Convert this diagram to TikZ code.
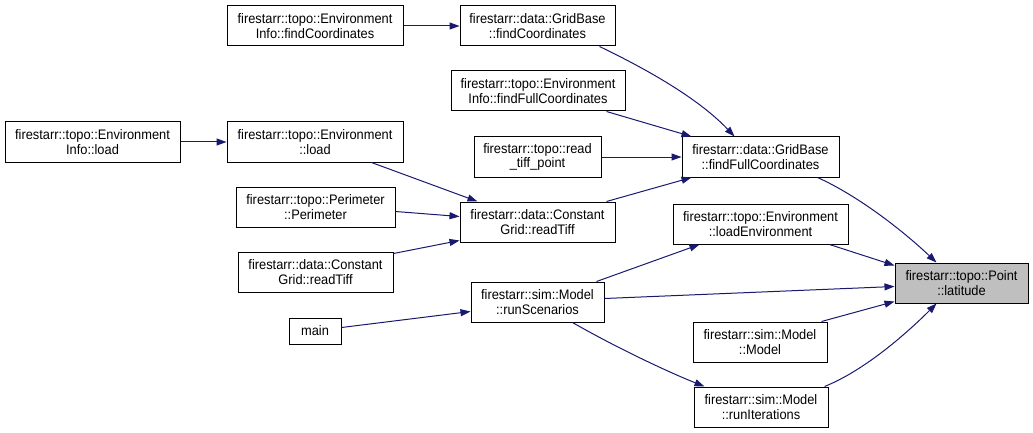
\documentclass[tikz,border=0pt]{standalone}
\usepackage{fontspec}
\setmainfont{Liberation Sans}[FakeStretch=0.93]
\usetikzlibrary{arrows.meta,calc}
\definecolor{edgeblue}{HTML}{191970}
\definecolor{latfill}{HTML}{BFBFBF}
\begin{document}
\begin{tikzpicture}[x=1pt,y=-1pt,
  fn/.style={draw=black, line width=1pt, inner sep=0pt, align=center,
    font=\fontsize{13.8}{14.7}\selectfont, text=black, minimum height=40pt},
  edge/.style={draw=edgeblue, line width=1pt, -{Triangle[length=10pt,width=7pt]}}]
\useasboundingbox (0,0) rectangle (1033,433);
% rank 0
\node[fn, minimum width=175pt] (EIl) at (92.5,142) {firestarr::topo::Environment\\Info::load};
% rank 1
\node[fn, minimum width=176pt] (EIfc) at (315,26) {firestarr::topo::Environment\\Info::findCoordinates};
\node[fn, minimum width=176pt] (El) at (315,142) {firestarr::topo::Environment\\::load};
\node[fn, minimum width=159pt] (Per) at (315.5,207) {firestarr::topo::Perimeter\\::Perimeter};
\node[fn, minimum width=155pt] (CGrtA) at (315.5,272) {firestarr::data::Constant\\Grid::readTiff};
\node[fn, minimum width=52pt, minimum height=26pt] (main) at (315,331) {main};
% rank 2
\node[fn, minimum width=155pt] (GBfc) at (537.5,26) {firestarr::data::GridBase\\::findCoordinates};
\node[fn, minimum width=174pt] (EIffc) at (538,91) {firestarr::topo::Environment\\Info::findFullCoordinates};
\node[fn, minimum width=127pt] (rtp) at (537.5,157) {firestarr::topo::read\\\_tiff\_point};
\node[fn, minimum width=155pt] (CGrtB) at (537.5,222) {firestarr::data::Constant\\Grid::readTiff};
\node[fn, minimum width=133pt] (rS) at (537.5,302) {firestarr::sim::Model\\::runScenarios};
% rank 3
\node[fn, minimum width=157pt] (GBffc) at (760.5,157) {firestarr::data::GridBase\\::findFullCoordinates};
\node[fn, minimum width=175pt] (lE) at (760.5,224) {firestarr::topo::Environment\\::loadEnvironment};
\node[fn, minimum width=134pt] (Mod) at (760,342) {firestarr::sim::Model\\::Model};
\node[fn, minimum width=134pt] (rI) at (761,407) {firestarr::sim::Model\\::runIterations};
% rank 4
\node[fn, minimum width=133pt, fill=latfill] (lat) at (961.5,283) {firestarr::topo::Point\\::latitude};
% edges
\draw[edge] (EIfc.east) -- (GBfc.west);
\draw[edge] ($(GBfc.south west)+(140,0)$) .. controls +(50,24) and +(-35,-37) .. ($(GBffc.north west)+(53,0)$);
\draw[edge] ($(EIffc.south west)+(156,0)$) -- ($(GBffc.north west)+(10,0)$);
\draw[edge] (rtp.east) -- (GBffc.west);
\draw[edge] ($(CGrtB.north west)+(147,0)$) -- ($(GBffc.south west)+(10,0)$);
\draw[edge] ($(GBffc.south west)+(136,0)$) .. controls +(40,18) and +(-35,-33) .. ($(lat.north west)+(42,0)$);
\draw[edge] ($(lE.south west)+(157,0)$) -- ($(lat.north west)+(0,3)$);
\draw[edge] ($(rS.north east)+(0,17)$) -- ($(lat.north west)+(0,24)$);
\draw[edge] ($(Mod.north west)+(129,0)$) -- ($(lat.south west)+(0,-2)$);
\draw[edge] ($(rI.north west)+(131,0)$) .. controls +(40,-16) and +(-30,30) .. ($(lat.south west)+(42,0)$);
\draw[edge] ($(rS.north west)+(126,0)$) -- ($(lE.south west)+(27,0)$);
\draw[edge] ($(rS.south west)+(102,0)$) .. controls +(40,23) and +(-40,-16) .. ($(rI.north west)+(11,0)$);
\draw[edge] (EIl.east) -- (El.west);
\draw[edge] ($(El.south west)+(145,0)$) -- ($(CGrtB.north west)+(18,0)$);
\draw[edge] ($(Per.north east)+(0,25)$) -- ($(CGrtB.north west)+(0,15)$);
\draw[edge] ($(CGrtA.north east)+(0,2)$) -- ($(CGrtB.south west)+(0,-2)$);
\draw[edge] ($(main.north east)+(0,10)$) -- ($(rS.north west)+(0,30)$);
\end{tikzpicture}
\end{document}
